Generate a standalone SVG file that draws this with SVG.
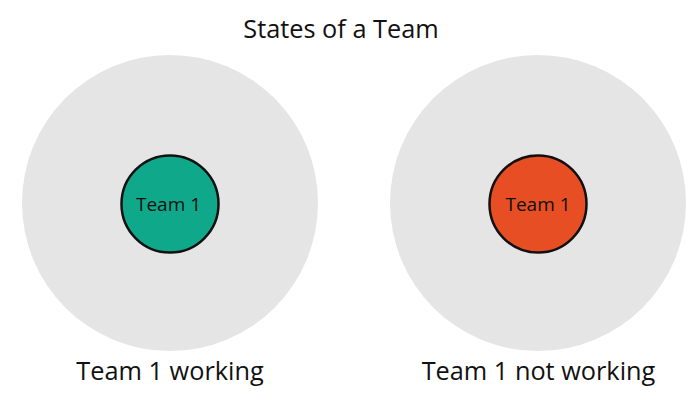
<svg xmlns="http://www.w3.org/2000/svg" width="700" height="408" viewBox="0 0 700 408">
<style>
text{font-family:"Open Sans","Noto Sans",sans-serif;fill:#111;text-anchor:middle}
.outer{fill:#e5e5e5}
.inner{stroke:#111;stroke-width:2.5}
.t{font-size:25.3px}
.n{font-size:19px}
</style>
<rect width="700" height="408" fill="#fff"/>
<text class="t" x="341" y="38">States of a Team</text>
<g id="state-working">
<circle class="outer" cx="170" cy="203" r="148"/>
<circle class="inner" cx="170" cy="204" r="48.5" fill="#0fa88a"/>
<text class="n" x="168.5" y="210.5">Team 1</text>
<text class="t" x="170" y="380">Team 1 working</text>
</g>
<g id="state-not-working">
<circle class="outer" cx="538" cy="203" r="148"/>
<circle class="inner" cx="538" cy="204" r="48.5" fill="#e84e24"/>
<text class="n" x="538" y="210.5">Team 1</text>
<text class="t" x="538.5" y="380">Team 1 not working</text>
</g>
<g id="connectors"/>
</svg>
